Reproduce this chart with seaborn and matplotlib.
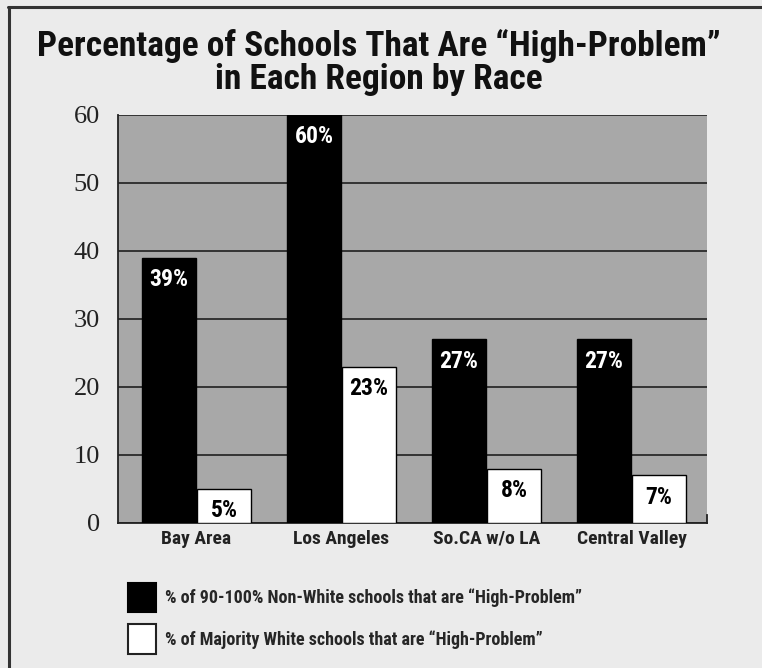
import matplotlib
matplotlib.use("Agg")
import matplotlib.pyplot as plt
from matplotlib.lines import Line2D
from matplotlib.patches import Patch
import pandas as pd
import seaborn as sns

regions = ["Bay Area", "Los Angeles", "So.CA w/o LA", "Central Valley"]
non_white = [39, 60, 27, 27]
majority_white = [5, 23, 8, 7]
series_names = [
    "% of 90-100% Non-White schools that are \u201cHigh-Problem\u201d",
    "% of Majority White schools that are \u201cHigh-Problem\u201d",
]
y_ticks = [0, 10, 20, 30, 40, 50, 60]
title = "Percentage of Schools That Are \u201cHigh-Problem\u201d\nin Each Region by Race"

df = pd.DataFrame({
    "region": regions * 2,
    "pct": non_white + majority_white,
    "series": [series_names[0]] * len(regions) + [series_names[1]] * len(regions),
})

sns.set_theme(style="white")
narrow = ["Liberation Sans Narrow", "Roboto Condensed", "DejaVu Sans"]
serif = ["Liberation Serif", "DejaVu Serif"]
plt.rcParams["font.family"] = narrow

fig = plt.figure(figsize=(7.62, 6.68), dpi=100, facecolor="#ebebeb")
ax = fig.add_axes([0.1549, 0.2171, 0.7730, 0.6108])
ax.set_facecolor("#a8a8a8")

sns.barplot(data=df, x="region", y="pct", hue="series", hue_order=series_names,
            palette=["black", "white"], edgecolor="black", linewidth=1.0,
            width=0.76, gap=0.03, saturation=1, legend=False, ax=ax, zorder=3)

ax.set_ylim(0, 60)
ax.set_xlim(-0.54, 3.52)
ax.set_yticks(y_ticks)
ax.set_yticklabels([str(t) for t in y_ticks], family=serif, fontsize=19, color="#222222")
ax.tick_params(axis="y", length=0, pad=13)
ax.tick_params(axis="x", length=0, pad=5)
for lab in ax.get_xticklabels():
    lab.set_fontweight("bold")
    lab.set_fontsize(14)
    lab.set_color("#222222")
ax.set_xlabel("")
ax.set_ylabel("")

ax.yaxis.grid(True, color="#2a2a2a", linewidth=1.3, zorder=1)
ax.set_axisbelow(True)
for side in ["left", "bottom"]:
    ax.spines[side].set_color("#222222")
    ax.spines[side].set_linewidth(1.3)
ax.spines["top"].set_visible(False)
ax.spines["right"].set_color("#222222")
ax.spines["right"].set_linewidth(1.3)
ax.spines["right"].set_bounds(0, 1.2)

# value labels inside the top of each bar
for container, color in zip(ax.containers, ["white", "black"]):
    ax.bar_label(container, labels=[f"{v:.0f}%" for v in container.datavalues],
                 label_type="edge", padding=-24, color=color,
                 fontsize=17, fontweight="heavy", zorder=5)

fig.text(0.497, 0.907, title, ha="center", va="center", fontsize=25.5,
         fontweight="heavy", linespacing=1.0, color="#111111")

handles = [Patch(facecolor="black", edgecolor="black", linewidth=1.5),
           Patch(facecolor="white", edgecolor="#222222", linewidth=1.5)]
fig.legend(handles, series_names, loc="upper left", bbox_to_anchor=(0.1627, 0.133),
           bbox_transform=fig.transFigure, frameon=False,
           handlelength=1.6, handleheight=2.1, handletextpad=0.45,
           labelspacing=0.7, borderpad=0.2, borderaxespad=0.0,
           prop={"weight": "bold", "size": 13})

# page frame along the left and top edges
fig.add_artist(Line2D([0.012, 0.012], [0, 0.99], transform=fig.transFigure,
                      color="#333333", linewidth=2.2))
fig.add_artist(Line2D([0.011, 1.0], [0.99, 0.99], transform=fig.transFigure,
                      color="#333333", linewidth=2.2))

fig.savefig("out.png", dpi=100, facecolor=fig.get_facecolor())
